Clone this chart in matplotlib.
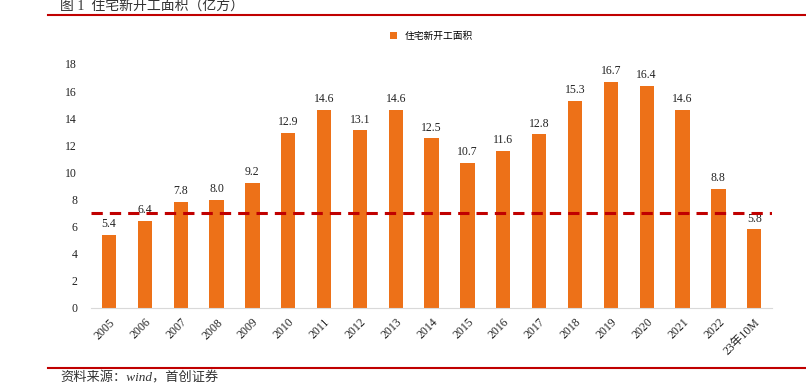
import matplotlib.pyplot as plt
from matplotlib.lines import Line2D

plt.rcParams['font.family'] = ['Liberation Serif', 'Noto Sans CJK SC']

years = ['2005', '2006', '2007', '2008', '2009', '2010', '2011', '2012', '2013', '2014',
         '2015', '2016', '2017', '2018', '2019', '2020', '2021', '2022', '23年10M']
area = [5.4, 6.4, 7.8, 8.0, 9.2, 12.9, 14.6, 13.1, 14.6, 12.5,
        10.7, 11.6, 12.8, 15.3, 16.7, 16.4, 14.6, 8.8, 5.8]
ref_level = 7

fig = plt.figure(figsize=(8.06, 3.85), dpi=100)
ax = fig.add_axes([0.113, 0.2, 0.845, 0.634])

x = range(len(years))
ax.bar(x, area, width=0.4, color='#ED7118', label='住宅新开工面积', zorder=2)
for i, v in zip(x, area):
    ax.text(i, v + 0.35, f'{v:.1f}', ha='center', va='bottom', fontsize=8.5, color='#222222')

ax.axhline(ref_level, color='#C00000', lw=2.2, ls=(0, (3.7, 2.3)), zorder=3)

ax.set_xlim(-0.5, 18.5)
ax.set_ylim(0, 18)
ax.set_yticks(range(0, 19, 2))
ax.set_xticks(list(x))
ax.set_xticklabels(years, rotation=45, ha='right', rotation_mode='anchor')
ax.tick_params(axis='both', length=0, labelsize=8.5, colors='#222222')
ax.tick_params(axis='x', pad=6)
ax.tick_params(axis='y', pad=10)
for s in ['top', 'right', 'left']:
    ax.spines[s].set_visible(False)
ax.spines['bottom'].set_color('#D9D9D9')

ax.legend(loc='lower center', bbox_to_anchor=(0.5, 1.06), frameon=False, fontsize=7,
          handlelength=0.7, handleheight=0.7)

# header / footer
fig.text(0.075, 1.0, '图 1  住宅新开工面积（亿方）', fontsize=10, va='top', color='#333333')
fig.add_artist(Line2D([0.06, 1.0], [0.962, 0.962], color='#C00000', lw=1.5))
fig.add_artist(Line2D([0.06, 1.0], [0.045, 0.045], color='#C00000', lw=1.5))
fig.text(0.075, 0.035, '资料来源：wind，首创证券', fontsize=9.5, va='top', style='italic', color='#333333')

fig.savefig('out.png', dpi=100)
